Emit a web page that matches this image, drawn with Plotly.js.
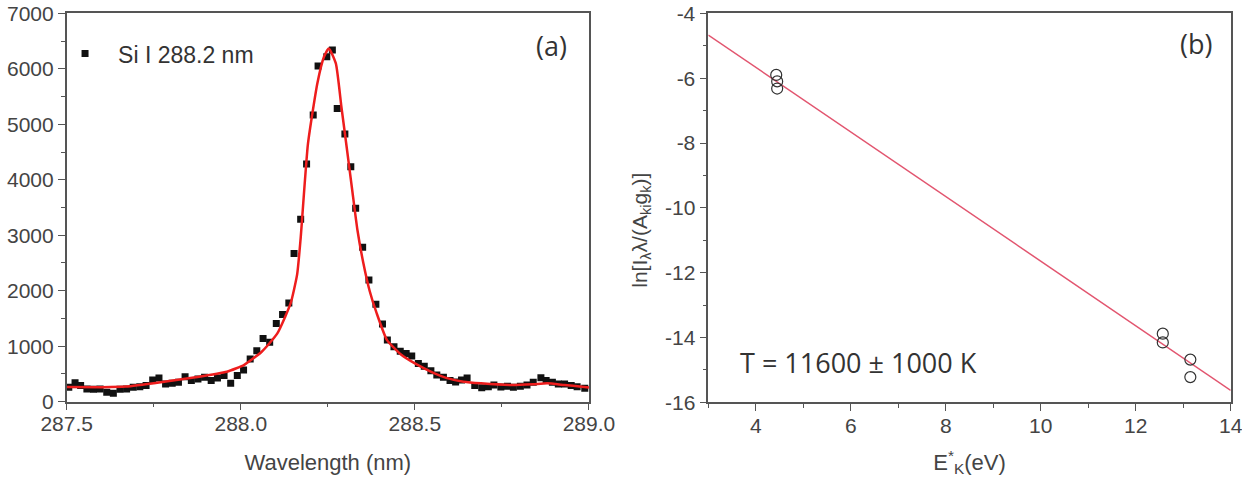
<!DOCTYPE html>
<html>
<head>
<meta charset="utf-8">
<script src="https://cdn.plot.ly/plotly-3.0.1.min.js"></script>
<style>
  html, body { margin: 0; padding: 0; background: #fff; }
  #chart { width: 1242px; height: 486px; }
</style>
</head>
<body>
<div id="chart"></div>
<script>
// (a) Si I 288.2 nm line profile: measured points
const wavelength = [
  287.506, 287.524, 287.540, 287.558, 287.577, 287.596, 287.615, 287.634, 287.653, 287.672,
  287.691, 287.710, 287.728, 287.747, 287.765, 287.784, 287.803, 287.821, 287.840, 287.858,
  287.877, 287.896, 287.915, 287.933, 287.952, 287.971, 287.990, 288.008, 288.027, 288.046,
  288.064, 288.083, 288.102, 288.120, 288.138, 288.153, 288.172, 288.189, 288.208, 288.222,
  288.247, 288.263, 288.277, 288.299, 288.316, 288.330, 288.350, 288.368, 288.388, 288.407,
  288.421, 288.440, 288.458, 288.475, 288.491, 288.510, 288.527, 288.546, 288.563, 288.582,
  288.601, 288.617, 288.634, 288.650, 288.672, 288.692, 288.711, 288.727, 288.747, 288.766,
  288.783, 288.803, 288.822, 288.840, 288.862, 288.877, 288.895, 288.912, 288.930, 288.949,
  288.966, 288.988
];
const intensity = [
  258, 340, 290, 230, 225, 230, 170, 150, 225, 230,
  260, 270, 290, 390, 425, 320, 330, 350, 450, 380,
  410, 440, 380, 425, 470, 330, 470, 570, 770, 920,
  1140, 1070, 1410, 1570, 1780, 2670, 3286, 4283, 5166, 6049,
  6216, 6337, 5286, 4823, 4234, 3485, 2782, 2193, 1754, 1400,
  1112, 990, 910, 870, 823, 690, 640, 559, 480, 440,
  380, 355, 390, 425, 290, 250, 270, 300, 265, 280,
  260, 280, 300, 350, 430, 380, 350, 320, 320, 290,
  270, 240
];

// (a) fitted line profile
const fitWavelength = [
  287.50, 287.60, 287.67, 287.77, 287.87, 287.96, 288.01, 288.06, 288.105, 288.143,
  288.162, 288.172, 288.193, 288.220, 288.239, 288.253, 288.273, 288.289, 288.304, 288.320,
  288.335, 288.352, 288.370, 288.390, 288.420, 288.460, 288.500, 288.550, 288.590, 288.640,
  288.690, 288.780, 288.840, 288.880, 288.930, 288.980, 289.000
];
const fitIntensity = [
  265, 262, 272, 350, 440, 540, 665, 900, 1230, 1770,
  2300, 2950, 4650, 5740, 6216, 6368, 6097, 5315, 4595, 3815,
  3094, 2500, 2000, 1600, 1110, 850, 690, 530, 430, 360,
  330, 300, 315, 330, 300, 270, 255
];
const wavelengthTicks = [287.5, 288.0, 288.5, 289.0];
const wavelengthTickText = ['287.5', '288.0', '288.5', '289.0'];

// (b) Boltzmann plot
const upperEnergy = [4.43, 4.45, 4.45, 12.57, 12.57, 13.15, 13.15];
const boltzmannY  = [-5.90, -6.10, -6.32, -13.88, -14.15, -14.68, -15.22];
const lineFitX = [3, 14];
const lineFitY = [-4.67, -15.63];
const energyTicks = [4, 6, 8, 10, 12, 14];
const lnTicks = [-16, -14, -12, -10, -8, -6, -4];
const lnTickText = ['-16', '-14', '-12', '-10', '-8', '-6', '-4'];

const tickFont = { family: 'Liberation Sans, Arial, sans-serif', size: 21, color: '#444' };
const titleFont = { family: 'Liberation Sans, Arial, sans-serif', size: 22, color: '#444' };
const labelFont = { family: 'Open Sans, sans-serif', size: 27, color: '#333' };
const axisColor = '#555';

function minorTicks(step) {
  return { dtick: step, ticks: 'outside', ticklen: 4, tickwidth: 1.2, tickcolor: axisColor };
}

function axisBase(extra) {
  return Object.assign({
    showline: true, linecolor: axisColor, linewidth: 1.6, mirror: true,
    ticks: 'outside', ticklen: 7, tickwidth: 1.4, tickcolor: axisColor,
    showgrid: false, zeroline: false, tickfont: tickFont,
    ticklabeloverflow: 'allow'
  }, extra);
}

const traces = [
  {
    x: wavelength, y: intensity, type: 'scatter', mode: 'markers',
    name: 'Si I 288.2 nm', xaxis: 'x', yaxis: 'y',
    marker: { symbol: 'square', size: 7, color: '#111' }
  },
  {
    x: fitWavelength, y: fitIntensity, type: 'scatter', mode: 'lines',
    showlegend: false, xaxis: 'x', yaxis: 'y',
    line: { color: '#ee1d1d', width: 2.5, shape: 'spline', smoothing: 0.5 }
  },
  {
    x: lineFitX, y: lineFitY, type: 'scatter', mode: 'lines',
    showlegend: false, xaxis: 'x2', yaxis: 'y2',
    line: { color: '#e2556f', width: 1.5 }
  },
  {
    x: upperEnergy, y: boltzmannY, type: 'scatter', mode: 'markers',
    showlegend: false, xaxis: 'x2', yaxis: 'y2',
    marker: { symbol: 'circle-open', size: 11, color: '#333', line: { width: 1.2, color: '#333' } }
  }
];

const layout = {
  width: 1242, height: 486,
  margin: { l: 0, r: 0, t: 0, b: 0 },
  paper_bgcolor: '#fff', plot_bgcolor: '#fff',
  showlegend: true,
  legend: {
    x: 0.0419, y: 0.934, xanchor: 'left', yanchor: 'top', itemwidth: 56,
    bgcolor: 'rgba(0,0,0,0)',
    font: { family: 'Liberation Sans, Arial, sans-serif', size: 23, color: '#333' }
  },
  xaxis: axisBase({
    domain: [0.0537, 0.4742], range: [287.5, 289.0],
    tickvals: wavelengthTicks, ticktext: wavelengthTickText,
    ticklabelstandoff: -5,
    minor: minorTicks(0.25),
    title: { text: 'Wavelength (nm)', font: titleFont, standoff: 21 },
    anchor: 'y'
  }),
  yaxis: axisBase({
    domain: [0.1735, 0.9726], range: [0, 7000], dtick: 1000,
    minor: minorTicks(500),
    anchor: 'x'
  }),
  xaxis2: axisBase({
    domain: [0.5703, 0.9909], range: [3, 14], tickvals: energyTicks,
    ticklabelstandoff: -3,
    minor: minorTicks(1),
    title: { text: 'E<sup>*</sup><sub>K</sub>(eV)', font: titleFont, standoff: 18 },
    anchor: 'y2'
  }),
  yaxis2: axisBase({
    domain: [0.1720, 0.9726], range: [-16, -4],
    tickvals: lnTicks, ticktext: lnTickText,
    minor: minorTicks(1),
    anchor: 'x2'
  }),
  annotations: [
    { text: '(a)', xref: 'paper', yref: 'paper', x: 0.4444, y: 0.9074,
      xanchor: 'center', yanchor: 'middle', showarrow: false, font: labelFont },
    { text: '(b)', xref: 'paper', yref: 'paper', x: 0.963, y: 0.9115,
      xanchor: 'center', yanchor: 'middle', showarrow: false, font: labelFont },
    { text: 'T = 11600 ± 1000 K', xref: 'paper', yref: 'paper', x: 0.6916, y: 0.2531,
      xanchor: 'center', yanchor: 'middle', showarrow: false, font: labelFont },
    { text: 'ln[I<sub>λ</sub>λ/(A<sub>ki</sub>g<sub>k</sub>)]', xref: 'paper', yref: 'paper',
      x: 0.516, y: 0.527, xanchor: 'center', yanchor: 'middle', textangle: -90, showarrow: false,
      font: { family: 'Liberation Sans, Arial, sans-serif', size: 21, color: '#444' } }
  ]
};

Plotly.newPlot('chart', traces, layout, { displayModeBar: false, responsive: false });
</script>
</body>
</html>
